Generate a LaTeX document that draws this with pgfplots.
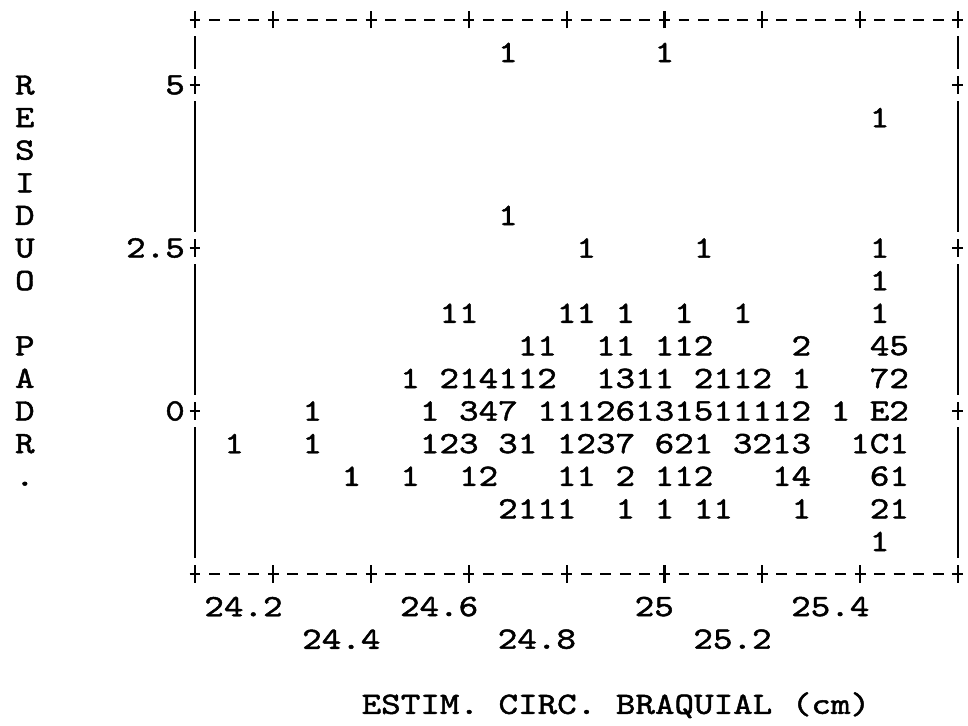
\documentclass[border=0pt]{standalone}
\usepackage{fontspec}
\usepackage{pgfplots}
\pgfplotsset{compat=1.18}
\newfontfamily\monofam{lmmono10-regular.otf}[FakeStretch=1.2,FakeBold=1.5]
\newcommand\M{\monofam\fontsize{15.52pt}{16.3pt}\selectfont}
\begin{document}
\begin{tikzpicture}
\useasboundingbox (-97.5pt,-76pt) rectangle (386.5pt,287pt);
\begin{axis}[at={(0,0)}, anchor=south west, scale only axis,
  width=381.42pt, height=277.1pt,
  xmin=24.04, xmax=25.60, ymin=-2.5, ymax=6, clip=false,
  axis line style={draw=none}, major tick length=0pt, tick style={draw=none},
  xtick={24.2,24.6,25,25.4}, xticklabels={24.2,24.6,25,25.4},
  extra x ticks={24.4,24.8,25.2}, extra x tick labels={24.4,24.8,25.2},
  extra x tick style={grid=none, xticklabel style={yshift=-16.3pt}},
  xticklabel style={font=\M, anchor=east, inner sep=0pt, xshift=4.89pt, yshift=-16.3pt},
  ytick={0,2.5,5}, yticklabels={0,2.5,5},
  yticklabel style={font=\M, anchor=east, inner sep=0pt, xshift=-4.89pt}]
\addplot[draw=none, mark=none, nodes near coords, nodes near coords align={center},
  point meta=explicit symbolic,
  every node near coord/.append style={font=\M, inner sep=0pt}]
  table[x=x, y=y, meta=l] {
x y l
24.68 5.5 1
25.00 5.5 1
25.44 4.5 1
24.68 3.0 1
24.84 2.5 1
25.08 2.5 1
25.44 2.5 1
25.44 2.0 1
24.56 1.5 1
24.60 1.5 1
24.80 1.5 1
24.84 1.5 1
24.92 1.5 1
25.04 1.5 1
25.16 1.5 1
25.44 1.5 1
24.72 1.0 1
24.76 1.0 1
24.88 1.0 1
24.92 1.0 1
25.00 1.0 1
25.04 1.0 1
25.08 1.0 2
25.28 1.0 2
25.44 1.0 4
25.48 1.0 5
24.48 0.5 1
24.56 0.5 2
24.60 0.5 1
24.64 0.5 4
24.68 0.5 1
24.72 0.5 1
24.76 0.5 2
24.88 0.5 1
24.92 0.5 3
24.96 0.5 1
25.00 0.5 1
25.08 0.5 2
25.12 0.5 1
25.16 0.5 1
25.20 0.5 2
25.28 0.5 1
25.44 0.5 7
25.48 0.5 2
24.28 0.0 1
24.52 0.0 1
24.60 0.0 3
24.64 0.0 4
24.68 0.0 7
24.76 0.0 1
24.80 0.0 1
24.84 0.0 1
24.88 0.0 2
24.92 0.0 6
24.96 0.0 1
25.00 0.0 3
25.04 0.0 1
25.08 0.0 5
25.12 0.0 1
25.16 0.0 1
25.20 0.0 1
25.24 0.0 1
25.28 0.0 2
25.36 0.0 1
25.44 0.0 E
25.48 0.0 2
24.12 -0.5 1
24.28 -0.5 1
24.52 -0.5 1
24.56 -0.5 2
24.60 -0.5 3
24.68 -0.5 3
24.72 -0.5 1
24.80 -0.5 1
24.84 -0.5 2
24.88 -0.5 3
24.92 -0.5 7
25.00 -0.5 6
25.04 -0.5 2
25.08 -0.5 1
25.16 -0.5 3
25.20 -0.5 2
25.24 -0.5 1
25.28 -0.5 3
25.40 -0.5 1
25.44 -0.5 C
25.48 -0.5 1
24.36 -1.0 1
24.48 -1.0 1
24.60 -1.0 1
24.64 -1.0 2
24.80 -1.0 1
24.84 -1.0 1
24.92 -1.0 2
25.00 -1.0 1
25.04 -1.0 1
25.08 -1.0 2
25.24 -1.0 1
25.28 -1.0 4
25.44 -1.0 6
25.48 -1.0 1
24.68 -1.5 2
24.72 -1.5 1
24.76 -1.5 1
24.80 -1.5 1
24.92 -1.5 1
25.00 -1.5 1
25.08 -1.5 1
25.12 -1.5 1
25.28 -1.5 1
25.44 -1.5 2
25.48 -1.5 1
25.44 -2.0 1
};
\end{axis}
% frame drawn like the line-printer characters
\begin{scope}[line width=1.1pt, line cap=butt]
\foreach \yy in {0,277.1} {
  \foreach \c in {0,...,39}
    \draw ({(\c-0.28)*9.78pt},{\yy*1pt}) -- ({(\c+0.28)*9.78pt},{\yy*1pt});
  \foreach \c in {0,4,9,14,19,24,29,34,39}
    \draw ({\c*9.78pt},{\yy*1pt-4.3pt}) -- ({\c*9.78pt},{\yy*1pt+4.3pt});
}
\foreach \xx in {0,381.42} {
  \foreach \a/\b in {16.5/15.5, 14.5/10.5, 9.5/5.5, 4.5/0.5}
    \draw[line width=1.3pt] ({\xx*1pt},{\a*16.3pt}) -- ({\xx*1pt},{\b*16.3pt});
  \foreach \r in {15,10,5} {
    \draw ({\xx*1pt-2.74pt},{\r*16.3pt}) -- ({\xx*1pt+2.74pt},{\r*16.3pt});
    \draw ({\xx*1pt},{\r*16.3pt-4.3pt}) -- ({\xx*1pt},{\r*16.3pt+4.3pt});
  }
}
\end{scope}
\foreach \L/\r in {R/2,E/3,S/4,I/5,D/6,U/7,O/8,P/10,A/11,D/12,R/13,./14}
  \node[font=\M, anchor=base, inner sep=0pt] at ({-8.7*9.78pt},{(17-\r)*16.3pt-4.74pt}) {\L};
\node[font=\M, anchor=base west, inner sep=0pt] at ({8.5*9.78pt},{-4*16.3pt-4.74pt}) {ESTIM. CIRC. BRAQUIAL (cm)};
\end{tikzpicture}
\end{document}
